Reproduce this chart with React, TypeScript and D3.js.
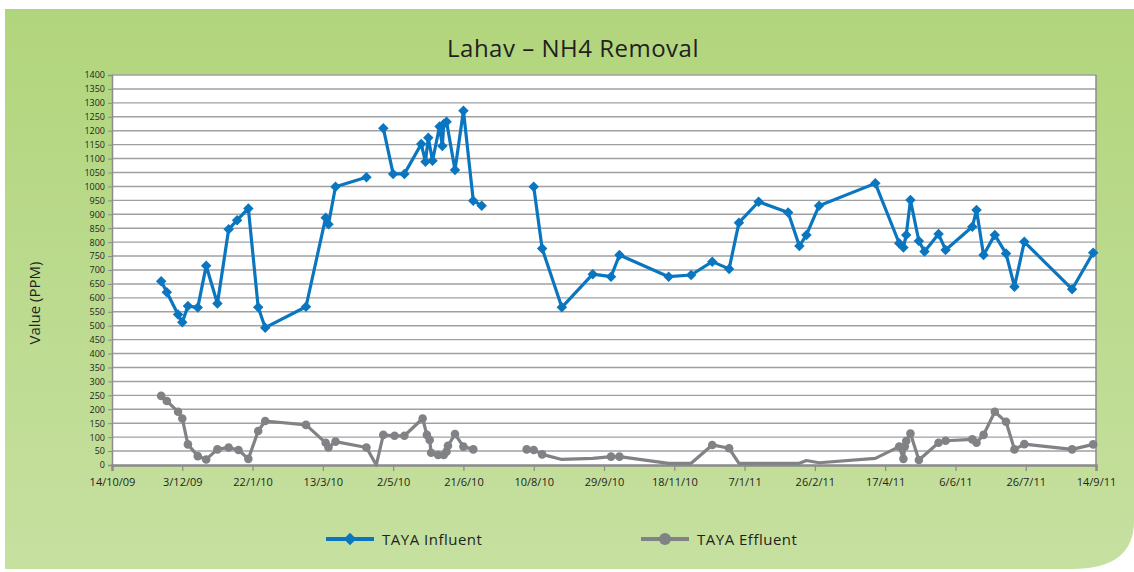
import { useEffect, useRef } from 'react';
import * as d3 from 'd3';

// ── data ──
const infDates = [
  '2009-11-18', '2009-11-22', '2009-11-30', '2009-12-03', '2009-12-07', '2009-12-14', '2009-12-20', '2009-12-28',
  '2010-01-05', '2010-01-11', '2010-01-19', '2010-01-26', '2010-01-31', '2010-03-01', '2010-03-15', '2010-03-17',
  '2010-03-22', '2010-04-13', '2010-04-19', '2010-04-25', '2010-05-02', '2010-05-10', '2010-05-22', '2010-05-25',
  '2010-05-27', '2010-05-30', '2010-06-04', '2010-06-06', '2010-06-07', '2010-06-09', '2010-06-15', '2010-06-21',
  '2010-06-28', '2010-07-04', '2010-07-20', '2010-08-10', '2010-08-16', '2010-08-30', '2010-09-21', '2010-10-04',
  '2010-10-10', '2010-11-14', '2010-11-30', '2010-12-15', '2010-12-27', '2011-01-03', '2011-01-17', '2011-02-07',
  '2011-02-15', '2011-02-20', '2011-03-01', '2011-04-10', '2011-04-27', '2011-04-30', '2011-05-02', '2011-05-05',
  '2011-05-11', '2011-05-15', '2011-05-25', '2011-05-30', '2011-06-18', '2011-06-21', '2011-06-26', '2011-07-04',
  '2011-07-12', '2011-07-18', '2011-07-25', '2011-08-28', '2011-09-12',
];
const infValues: (number | null)[] = [
  660, 620, 540, 512, 571, 565, 715, 580,
  846, 879, 921, 566, 493, 568, 888, 864,
  999, 1033, null, 1209, 1045, 1045, 1152, 1089,
  1175, 1092, 1215, 1145, 1224, 1232, 1059, 1272,
  949, 931, null, 999, 777, 566, 685, 676,
  754, 676, 682, 730, 704, 870, 945, 906,
  786, 826, 931, 1011, 796, 781, 826, 951,
  804, 766, 829, 772, 855, 915, 754, 826,
  759, 640, 801, 631, 762,
];

const effDates = [
  '2009-11-18', '2009-11-22', '2009-11-30', '2009-12-03', '2009-12-07', '2009-12-14', '2009-12-20', '2009-12-28',
  '2010-01-05', '2010-01-12', '2010-01-19', '2010-01-26', '2010-01-31', '2010-03-01', '2010-03-15', '2010-03-17',
  '2010-03-22', '2010-04-13', '2010-04-20', '2010-04-25', '2010-05-03', '2010-05-10', '2010-05-23', '2010-05-26',
  '2010-05-28', '2010-05-29', '2010-06-03', '2010-06-07', '2010-06-09', '2010-06-10', '2010-06-15', '2010-06-21',
  '2010-06-28', '2010-07-15', '2010-08-05', '2010-08-10', '2010-08-16', '2010-08-30', '2010-09-21', '2010-10-04',
  '2010-10-10', '2010-11-14', '2010-11-30', '2010-12-15', '2010-12-27', '2011-01-03', '2011-01-17', '2011-02-07',
  '2011-02-15', '2011-02-20', '2011-03-01', '2011-04-10', '2011-04-27', '2011-04-30', '2011-05-01', '2011-05-02',
  '2011-05-05', '2011-05-11', '2011-05-25', '2011-05-30', '2011-06-18', '2011-06-21', '2011-06-26', '2011-07-04',
  '2011-07-12', '2011-07-18', '2011-07-25', '2011-08-28', '2011-09-12',
];
const effValues: (number | null)[] = [
  248, 230, 191, 167, 74, 32, 20, 56,
  63, 54, 22, 122, 158, 144, 80, 63,
  84, 63, 0, 108, 105, 105, 167, 108,
  90, 44, 36, 36, 48, 69, 111, 66,
  56, null, 56, 54, 38, 20, 24, 30,
  30, 6, 6, 72, 60, 6, 6, 6,
  6, 16, 8, 24, 66, 22, 66, 86,
  113, 18, 80, 87, 92, 80, 108, 191,
  155, 56, 75, 56, 74,
];
// effluent samples drawn without a marker in the original
const effNoMarker = [
  '2010-04-20', '2010-08-30', '2010-09-21', '2010-11-14', '2010-11-30', '2011-01-03',
  '2011-01-17', '2011-02-07', '2011-02-15', '2011-02-20', '2011-03-01', '2011-04-10',
];

const xTickLabels = [
  '14/10/09', '3/12/09', '22/1/10', '13/3/10', '2/5/10', '21/6/10', '10/8/10', '29/9/10',
  '18/11/10', '7/1/11', '26/2/11', '17/4/11', '6/6/11', '26/7/11', '14/9/11',
];

const W = 1134;
const H = 572;
const BLUE = '#0b76c0';
const GREY = '#808285';
const INK = '#231f20';
const sans = '"Open Sans", sans-serif';

const parse = d3.timeParse('%Y-%m-%d');

export default function App() {
  const svgRef = useRef<SVGSVGElement>(null);

  useEffect(() => {
    const svg = d3.select(svgRef.current);
    svg.selectAll('*').remove();

    const left = 112, right = 1096, top = 75, bottom = 465;
    const start = parse('2009-10-14')!;
    const end = parse('2011-09-14')!;
    const x = d3.scaleTime().domain([start, end]).range([left, right]);
    const y = d3.scaleLinear().domain([0, 1400]).range([bottom, top]);

    // ── background panel ──
    const defs = svg.append('defs');
    const grad = defs.append('linearGradient').attr('id', 'bg').attr('x1', 0).attr('y1', 0).attr('x2', 0).attr('y2', 1);
    grad.append('stop').attr('offset', '0%').attr('stop-color', '#b1d57c');
    grad.append('stop').attr('offset', '100%').attr('stop-color', '#c6e0a0');

    const px0 = 5, py0 = 9, px1 = W, py1 = 569;
    svg.append('path')
      .attr('d', `M${px0},${py0} H${px1} V${py1 - 48} Q${px1},${py1} ${px1 - 62},${py1} H${px0} Z`)
      .attr('fill', 'url(#bg)');

    // plot area
    svg.append('rect')
      .attr('x', left).attr('y', top).attr('width', right - left).attr('height', bottom - top)
      .attr('fill', '#fff');

    // title
    svg.append('text')
      .attr('x', 573).attr('y', 57)
      .attr('text-anchor', 'middle')
      .attr('font-family', sans)
      .attr('font-size', 24)
      .attr('letter-spacing', 0.5)
      .attr('fill', INK)
      .text('Lahav – NH4 Removal');

    // gridlines
    const yTicks = d3.range(0, 1401, 50);
    svg.append('g').selectAll('line').data(yTicks.filter(t => t > 0)).join('line')
      .attr('x1', left).attr('x2', right)
      .attr('y1', d => y(d)).attr('y2', d => y(d))
      .attr('stroke', '#9fa0a2').attr('stroke-width', 1.4);

    // y axis
    const yAxis = svg.append('g').attr('transform', `translate(${left},0)`)
      .call(d3.axisLeft(y).tickValues(yTicks).tickSize(4).tickPadding(3).tickFormat(d3.format('d')));
    yAxis.select('.domain').attr('stroke', '#8a8b8d').attr('stroke-width', 1.5);
    yAxis.selectAll('.tick line').attr('stroke', '#8a8b8d');
    yAxis.selectAll('.tick text').attr('font-family', sans).attr('font-size', 9).attr('fill', INK);

    // right border
    svg.append('line').attr('x1', right).attr('x2', right).attr('y1', top).attr('y2', bottom)
      .attr('stroke', '#8a8b8d').attr('stroke-width', 1.5);

    // x axis
    const xTickDates = xTickLabels.map((_, i) => d3.timeDay.offset(start, i * 50));
    const xAxis = svg.append('g').attr('transform', `translate(0,${bottom})`)
      .call(d3.axisBottom(x).tickValues(xTickDates).tickSize(6).tickPadding(7)
        .tickFormat((_, i) => xTickLabels[i]));
    xAxis.select('.domain').attr('stroke', '#8a8b8d').attr('stroke-width', 2.5);
    xAxis.selectAll('.tick line').attr('stroke', '#8a8b8d').attr('stroke-width', 1.2);
    xAxis.selectAll('.tick text').attr('font-family', sans).attr('font-size', 11).attr('fill', INK);

    // y title
    svg.append('text')
      .attr('transform', 'translate(40,303) rotate(-90)')
      .attr('text-anchor', 'middle')
      .attr('font-family', sans)
      .attr('font-size', 15)
      .attr('fill', INK)
      .text('Value (PPM)');

    // ── series ──
    const inf = infDates.map((d, i) => ({ date: parse(d)!, v: infValues[i], mark: true }));
    const eff = effDates.map((d, i) => ({ date: parse(d)!, v: effValues[i], mark: !effNoMarker.includes(d) }));

    const line = d3.line<{ date: Date; v: number | null }>()
      .defined(d => d.v != null)
      .x(d => x(d.date))
      .y(d => y(d.v as number));

    svg.append('path').datum(eff).attr('d', line)
      .attr('fill', 'none').attr('stroke', GREY).attr('stroke-width', 3.2).attr('stroke-linejoin', 'round');
    svg.append('g').selectAll('circle').data(eff.filter(d => d.v != null && d.mark)).join('circle')
      .attr('cx', d => x(d.date)).attr('cy', d => y(d.v as number)).attr('r', 4.3)
      .attr('fill', GREY);

    svg.append('path').datum(inf).attr('d', line)
      .attr('fill', 'none').attr('stroke', BLUE).attr('stroke-width', 3.2).attr('stroke-linejoin', 'round');
    const diamond = d3.symbol().type(d3.symbolDiamond2).size(70);
    svg.append('g').selectAll('path').data(inf.filter(d => d.v != null)).join('path')
      .attr('transform', d => `translate(${x(d.date)},${y(d.v as number)})`)
      .attr('d', diamond)
      .attr('fill', BLUE);

    // ── legend ──
    const leg = [
      { label: 'TAYA Influent', color: BLUE, x0: 326, kind: 'diamond' },
      { label: 'TAYA Effluent', color: GREY, x0: 641, kind: 'circle' },
    ];
    const ly = 539;
    leg.forEach(l => {
      svg.append('line').attr('x1', l.x0).attr('x2', l.x0 + 48).attr('y1', ly).attr('y2', ly)
        .attr('stroke', l.color).attr('stroke-width', 4);
      if (l.kind === 'diamond') {
        svg.append('path').attr('transform', `translate(${l.x0 + 24},${ly})`)
          .attr('d', d3.symbol().type(d3.symbolDiamond2).size(100)).attr('fill', l.color);
      } else {
        svg.append('circle').attr('cx', l.x0 + 24).attr('cy', ly).attr('r', 6).attr('fill', l.color);
      }
      svg.append('text').attr('x', l.x0 + 56).attr('y', ly + 5.5)
        .attr('font-family', sans).attr('font-size', 15).attr('letter-spacing', 0.5).attr('fill', INK)
        .text(l.label);
    });
  }, []);

  return (
    <svg ref={svgRef} width={W} height={H}
      style={{ position: 'absolute', left: 0, top: 0, display: 'block' }} />
  );
}
